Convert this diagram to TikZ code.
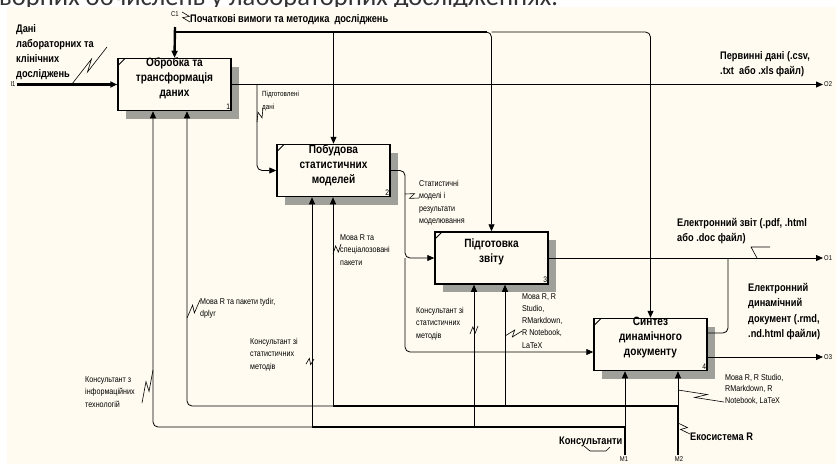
\documentclass[tikz,border=0pt]{standalone}
\usepackage{fontspec}
\setmainfont{Liberation Sans}
\newfontfamily\idefont[FakeStretch=0.84]{Liberation Sans}
\newfontfamily\slidefont{Carlito}
\usetikzlibrary{arrows.meta,calc,positioning,shadows}
\definecolor{paper}{RGB}{255,251,240}
\definecolor{hatch}{RGB}{160,160,155}

\tikzset{
  func/.style={draw, line width=1.5pt, fill=paper, minimum width=113pt, minimum height=52pt,
    general shadow={fill=hatch, shadow xshift=8pt, shadow yshift=-8pt},
    path picture={\draw[line width=0.8pt] ([yshift=-7pt]path picture bounding box.north west) -- ([xshift=7pt]path picture bounding box.north west);}},
  ftext/.style={align=center, inner sep=0pt, font=\idefont\bfseries\fontsize{12}{15}\selectfont},
  num/.style={anchor=south east, inner sep=1.5pt, font=\idefont\fontsize{8}{9}\selectfont},
  lab/.style={align=left, anchor=north west, inner sep=0pt, font=\idefont\fontsize{8.5}{12.5}\selectfont},
  blab/.style={lab, font=\idefont\bfseries\fontsize{11}{15}\selectfont},
  tag/.style={inner sep=1pt, font=\idefont\fontsize{7}{8}\selectfont},
  flow/.style={->, line width=0.8pt},
  bus/.style={line width=2.4pt},
}
\newcommand{\squig}[2]{\draw[line width=0.6pt] (#1) -- ($(#1)!0.62!(#2)!3pt!90:(#2)$) -- ($(#1)!0.38!(#2)!3pt!-90:(#2)$) -- (#2);}

\begin{document}
\begin{tikzpicture}[x=1pt, y=-1pt, >={Triangle[length=7pt,width=6pt]}]
\useasboundingbox (0,0) rectangle (836,464);
\fill[white] (0,0) rectangle (836,464);
\node[anchor=base west, inner sep=0pt, font=\slidefont\fontsize{26.5}{30}\selectfont, text=black!80] (head) at (-1,5) {ворних обчислень у лабораторних дослідженнях.};
\fill[paper] (7,7) rectangle (836,464);

% functions
\node[func, label={[num]south east:1}] (b1) at (174.5,84.5) {};
\node[func, label={[num]south east:2}] (b2) at (333.5,170.5) {};
\node[func, label={[num]south east:3}] (b3) at (491.5,258) {};
\node[func, label={[num]south east:4}] (b4) at (650.5,344.5) {};
\node[ftext] (b1t) at ([yshift=6pt]b1.center) {Обробка та\\трансформація\\даних};
\node[ftext] (b2t) at ([yshift=5pt]b2.center) {Побудова\\статистичних\\моделей};
\node[ftext] (b3t) at ([yshift=6.5pt]b3.center) {Підготовка\\звіту};
\node[ftext] (b4t) at ([yshift=6.5pt]b4.center) {Синтез\\динамічного\\документу};

% inputs and controls
\node[tag] (i1lbl) at (13,84.5) {I1};
\draw[flow, bus] (i1lbl.east) -- (b1.west);
\node[tag] (c1lbl) at (175,14) {C1};
\coordinate (c1) at (175,27);
\coordinate (ctl) at (175,32);
\draw[flow, bus] (c1) -- (b1.north);
\draw[bus] (ctl) -- ([xshift=-5pt]ctl -| b3.north);
\draw[flow, rounded corners=5] ([xshift=-6pt]ctl -| b3.north) -- (ctl -| b3.north) -- (b3.north);
\draw[flow, rounded corners=5] (ctl -| b3.north) -- (ctl -| b4.north) -- (b4.north);
\draw[flow] (ctl -| b2.north) -- (b2.north);

% outputs
\node[tag, anchor=west] (o2lbl) at (823,84.5) {O2};
\node[tag, anchor=west] (o1lbl) at (823,258) {O1};
\node[tag, anchor=west] (o3lbl) at (823,357) {O3};
\draw[flow] (b1.east) -- (o2lbl.west);
\coordinate (s1) at (257,84.5);
\draw[flow, rounded corners=5] (s1) -- (s1 |- b2.west) -- (b2.west);
\draw[flow] (b3.east) -- (o1lbl.west);
\coordinate (s2) at (405,170.5);
\coordinate (b4in) at ([yshift=-7.5pt]b4.west);
\draw[flow, rounded corners=5] (b2.east) -- (s2) -- (s2 |- b3.west) -- (b3.west);
\draw[flow, rounded corners=5] (s2 |- b3.west) -- (s2 |- b4in) -- (b4in);
\coordinate (b4out) at ([yshift=11.5pt]b4.east);
\coordinate (s4) at (728,333);
\draw[rounded corners=5, line width=0.8pt] (b4out) -- (s4) -- (s4 |- b3.east);
\draw[flow] ([yshift=-12.5pt]b4.east) -- (o3lbl.west);

% mechanisms
\node[tag] (m1lbl) at (624,459) {M1};
\node[tag] (m2lbl) at (679,459) {M2};
\coordinate (p1) at (153,427);
\coordinate (p2) at (312,427);
\coordinate (p3) at (474,427);
\coordinate (p4) at (625,427);
\coordinate (q1) at (187,406);
\coordinate (q2) at (333,406);
\coordinate (q3) at (505,406);
\coordinate (q4) at (678,406);
\draw[bus] (p4 |- m1lbl.north) -- (p4) -- (p2);
\draw[flow, rounded corners=5] (p2) -- (p1) -- (p1 |- b1.south);
\draw[flow] (p2) -- (p2 |- b2.south);
\draw[flow] (p3) -- (p3 |- b3.south);
\draw[flow] (p4) -- (p4 |- b4.south);
\draw[bus] (q4 |- m2lbl.north) -- (q4) -- (q2);
\draw[flow, rounded corners=5] (q2) -- (q1) -- (q1 |- b1.south);
\draw[flow] (q2) -- (q2 |- b2.south);
\draw[flow] (q3) -- (q3 |- b3.south);
\draw[flow] (q4) -- (q4 |- b4.south);

% labels
\node[blab] (lin) at (16,24) {Дані\\лабораторних та\\клінічних\\досліджень};
\node[blab] (lctl) at (190,14) {Початкові вимоги та методика \ досліджень};
\node[blab] (lo2) at (720,51) {Первинні дані (.csv,\\.txt \ або .xls файл)};
\node[blab] (lo1) at (677,218) {Електронний звіт (.pdf, .html\\або .doc файл)};
\node[blab, font=\idefont\bfseries\fontsize{11}{15.5}\selectfont] (ldoc) at (748,283) {Електронний\\динамічний\\документ (.rmd,\\.nd.html файли)};
\node[blab] (lm1) at (559,437) {Консультанти};
\node[blab] (lm2) at (690,433) {Екосистема R};
\node[lab, font=\idefont\fontsize{7.5}{12.5}\selectfont] (ls1) at (262,91) {Підготовлені\\дані};
\node[lab] (ls2) at (419,180) {Статистичні\\моделі і\\результати\\моделювання};
\node[lab] (lr1) at (200,298) {Мова R та пакети tydir,\\dplyr};
\node[lab] (lr2) at (340,234) {Мова R та\\спеціалозовані\\пакети};
\node[lab] (lk1) at (250,338) {Консультант зі\\статистичних\\методів};
\node[lab] (lk2) at (85,376) {Консультант з\\інформаційних\\технологій};
\node[lab] (lk3) at (416,307) {Консультант зі\\статистичних\\методів};
\node[lab, font=\idefont\fontsize{8.5}{12.3}\selectfont] (lr3) at (522,293) {Мова R, R\\Studio,\\RMarkdown,\\R Notebook,\\LaTeX};
\node[lab, font=\idefont\fontsize{8.5}{11.5}\selectfont] (lr4) at (725,374) {Мова R, R Studio,\\RMarkdown, R\\Notebook, LaTeX};

% squiggles
\squig{107,47}{72,84}
\squig{182,12}{190,22}
\squig{257,122}{263,108}
\squig{405,194}{419,198}
\draw[line width=0.6pt] (770,247) -- (751,247) -- (757,258);
\squig{187,318}{200,300}
\squig{333,254}{341,244}
\squig{306,364}{314,359}
\squig{153,370}{142,403}
\squig{470,334}{478,326}
\squig{505,336}{522,331}
\squig{678,390}{724,402}
\draw[line width=0.6pt] (584,446) -- (590,451) -- (606,451) -- (610,447);
\squig{678,423}{690,434}
\end{tikzpicture}
\end{document}
